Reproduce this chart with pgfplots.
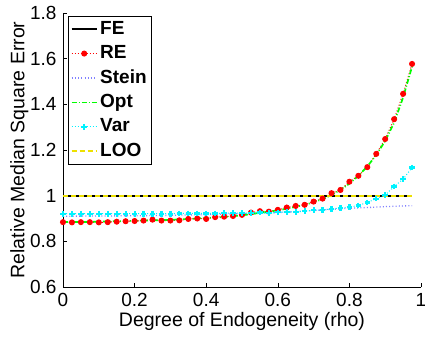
\documentclass[border=0pt]{standalone}
\usepackage{pgfplots}
\pgfplotsset{compat=1.18}
\usepackage{fontspec}
\setmainfont{Liberation Sans}
\definecolor{cRE}{rgb}{1,0,0}
\definecolor{cStein}{rgb}{0.5,0.5,1}
\definecolor{cOpt}{rgb}{0,1,0}
\definecolor{cVar}{rgb}{0,0.95,1}
\definecolor{cLOO}{rgb}{0.93,0.88,0}
\pgfplotsset{/pgfplots/legend image code/.code={%
  \draw[mark repeat=2,mark phase=2,#1] plot coordinates {(0bp,0bp) (12.5bp,0bp) (25bp,0bp)};}}
\begin{document}
\fontsize{19bp}{22bp}\selectfont
\begin{tikzpicture}
\begin{axis}[
  scale only axis,
  width=358bp, height=274bp,
  xmin=0, xmax=1, ymin=0.6, ymax=1.8,
  xtick={0,0.2,0.4,0.6,0.8,1},
  ytick={0.6,0.8,1,1.2,1.4,1.6,1.8},
  axis lines*=left,
  axis line style={-, line width=0.8bp},
  tick align=inside,
  major tick length=4bp,
  tick style={line width=0.6bp, black},
  /pgf/number format/assume math mode=true,
  tick label style={font=\fontsize{19bp}{22bp}\selectfont},
  label style={font=\fontsize{19.5bp}{22bp}\selectfont},
  xlabel={Degree of Endogeneity (rho)},
  ylabel={Relative Median Square Error},
  xlabel style={at={(axis description cs:0.5,-0.124)}, anchor=center},
  ylabel style={at={(axis description cs:-0.122,0.5)}, anchor=center},
  legend style={at={(axis description cs:0.014,0.988)}, anchor=north west,
    draw=black, font=\bfseries\fontsize{19bp}{22bp}\selectfont,
    inner sep=2.5bp, row sep=3.2bp,
    nodes={inner sep=2.5bp}},
  legend cell align=left,
]
\coordinate (sw) at (axis cs:0,0.6);
\coordinate (ne) at (axis cs:1,1.8);
% FE
\addplot[black, line width=2bp] coordinates {(0,1) (0.975,1)};
\addlegendentry{FE}
% RE
\addplot[cRE, line width=1bp, dash pattern=on 1bp off 2bp, mark=*, mark size=2.5bp, mark options={solid}] coordinates {
(0,0.884) (0.025,0.883) (0.05,0.884) (0.075,0.884) (0.1,0.883) (0.125,0.884) (0.15,0.886) (0.175,0.888)
(0.2,0.889) (0.225,0.891) (0.25,0.895) (0.275,0.891) (0.3,0.891) (0.325,0.892) (0.35,0.898) (0.375,0.900)
(0.4,0.898) (0.425,0.906) (0.45,0.908) (0.475,0.911) (0.5,0.916) (0.525,0.926) (0.55,0.932) (0.575,0.930)
(0.6,0.938) (0.625,0.948) (0.65,0.955) (0.675,0.960) (0.7,0.974) (0.725,0.987) (0.75,1.011) (0.775,1.025)
(0.8,1.061) (0.825,1.087) (0.85,1.125) (0.875,1.183) (0.9,1.248) (0.925,1.335) (0.95,1.446) (0.975,1.577)};
\addlegendentry{RE}
% Stein
\addplot[cStein, line width=1.3bp, dash pattern=on 1bp off 2.2bp] coordinates {
(0,0.910) (0.1,0.911) (0.2,0.912) (0.3,0.914) (0.4,0.917) (0.5,0.921) (0.55,0.923) (0.6,0.926)
(0.65,0.930) (0.7,0.935) (0.75,0.940) (0.8,0.945) (0.85,0.948) (0.9,0.952) (0.95,0.955) (0.975,0.956)};
\addlegendentry{Stein}
% Opt
\addplot[cOpt, line width=1.7bp, dash pattern=on 5bp off 2bp on 1bp off 2bp] coordinates {
(0,0.885) (0.025,0.885) (0.05,0.885) (0.075,0.885) (0.1,0.886) (0.125,0.887) (0.15,0.888) (0.175,0.889)
(0.2,0.890) (0.225,0.891) (0.25,0.892) (0.275,0.893) (0.3,0.894) (0.325,0.896) (0.35,0.898) (0.375,0.900)
(0.4,0.902) (0.425,0.904) (0.45,0.907) (0.475,0.910) (0.5,0.914) (0.525,0.919) (0.55,0.925) (0.575,0.930)
(0.6,0.936) (0.625,0.943) (0.65,0.951) (0.675,0.960) (0.7,0.971) (0.725,0.985) (0.75,1.003) (0.775,1.025)
(0.8,1.053) (0.825,1.087) (0.85,1.128) (0.875,1.178) (0.9,1.240) (0.925,1.320) (0.95,1.430) (0.975,1.565)};
\addlegendentry{Opt}
% Var
\addplot[cVar, line width=1bp, dash pattern=on 1bp off 2bp, mark=+, mark size=2.8bp, mark options={solid, line width=2.2bp}] coordinates {
(0,0.921) (0.025,0.921) (0.05,0.921) (0.075,0.921) (0.1,0.921) (0.125,0.921) (0.15,0.921) (0.175,0.921)
(0.2,0.921) (0.225,0.921) (0.25,0.921) (0.275,0.921) (0.3,0.921) (0.325,0.922) (0.35,0.922) (0.375,0.922)
(0.4,0.922) (0.425,0.922) (0.45,0.923) (0.475,0.923) (0.5,0.923) (0.525,0.924) (0.55,0.926) (0.575,0.923)
(0.6,0.927) (0.625,0.929) (0.65,0.929) (0.675,0.932) (0.7,0.936) (0.725,0.938) (0.75,0.942) (0.775,0.946)
(0.8,0.950) (0.825,0.957) (0.85,0.970) (0.875,0.987) (0.9,1.003) (0.925,1.040) (0.95,1.072) (0.975,1.123)};
\addlegendentry{Var}
% LOO
\addplot[cLOO, line width=2bp, dash pattern=on 5bp off 3bp] coordinates {(0,1) (0.975,1)};
\addlegendentry{LOO}
\end{axis}
\pgfresetboundingbox
\path ([shift={(-63bp,-50bp)}]sw) rectangle ([shift={(4bp,13bp)}]ne);
\end{tikzpicture}
\end{document}
